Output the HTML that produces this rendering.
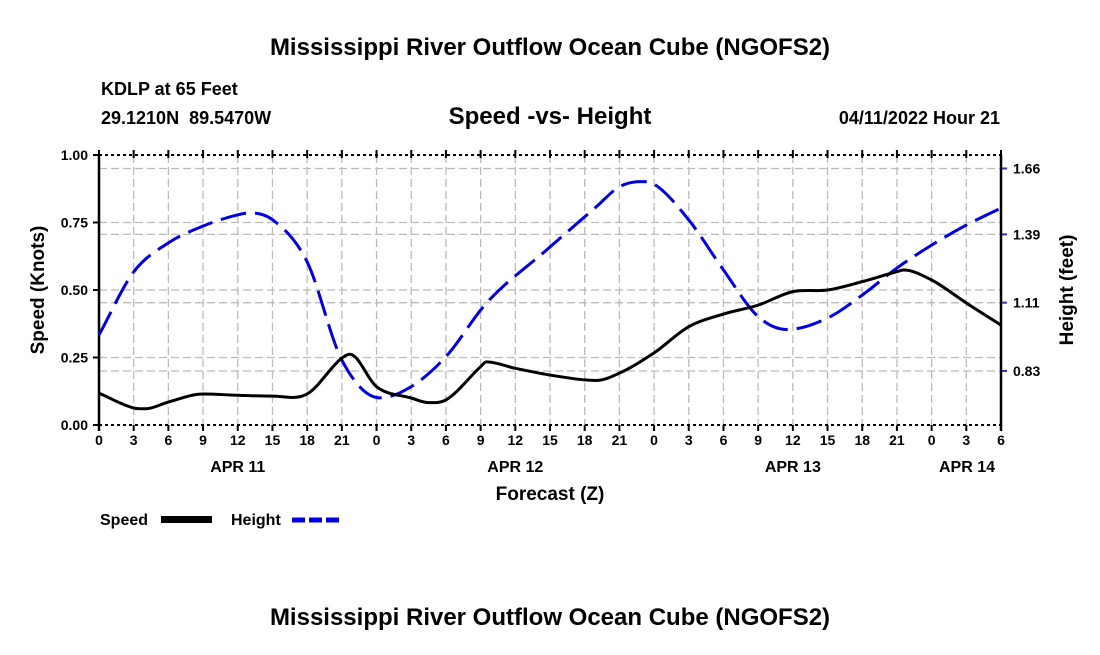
<!DOCTYPE html>
<html><head><meta charset="utf-8"><style>
body{margin:0;background:#fff;font-family:"Liberation Sans",sans-serif;}
svg text{font-family:"Liberation Sans",sans-serif;font-weight:bold;fill:#000;}
</style></head><body>
<svg id="chart" width="1100" height="650" xmlns="http://www.w3.org/2000/svg">
<text x="550" y="55" font-size="24" text-anchor="middle">Mississippi River Outflow Ocean Cube (NGOFS2)</text>
<text x="101" y="95" font-size="18">KDLP at 65 Feet</text>
<text x="101" y="124" font-size="18" style="white-space:pre">29.1210N  89.5470W</text>
<text x="550" y="124" font-size="24" text-anchor="middle">Speed -vs- Height</text>
<text x="1000" y="124" font-size="18" text-anchor="end">04/11/2022 Hour 21</text>
<g id="grid"></g><g id="axes"></g><g id="series"></g>
<text x="550" y="500" font-size="19" text-anchor="middle">Forecast (Z)</text>
<text transform="translate(44,290) rotate(-90)" font-size="19" text-anchor="middle">Speed (Knots)</text>
<text transform="translate(1073,290) rotate(-90)" font-size="19" text-anchor="middle">Height (feet)</text>
<g>
<text x="100" y="525" font-size="16">Speed</text>
<rect x="161" y="516" width="51" height="7" fill="#000"/>
<text x="231" y="525" font-size="16">Height</text>
<line x1="292" y1="520" x2="342" y2="520" stroke="#0000e0" stroke-width="5" stroke-dasharray="13,4"/>
</g>
<text x="550" y="625" font-size="24" text-anchor="middle">Mississippi River Outflow Ocean Cube (NGOFS2)</text>
</svg>
<script>
const hours=[0,3,4,6,9,12,15,18,21,21.7,24,27,28.5,30,33,33.5,36,39,42,43,45,48,51,54,57,60,63,66,69,69.6,72,75,78];
const speed=[0.118,0.063,0.06,0.085,0.115,0.11,0.107,0.115,0.248,0.262,0.142,0.10,0.083,0.093,0.216,0.234,0.21,0.185,0.167,0.165,0.192,0.267,0.364,0.411,0.444,0.494,0.5,0.531,0.568,0.574,0.537,0.452,0.37];
const hHours=[0,3,6,9,12,13,15,18,21,24.3,27,30,33.5,38.7,43,45,46.8,48,51,54,57,59.5,63,66,69,72,75,78];
const height=[0.978,1.236,1.355,1.424,1.47,1.478,1.45,1.277,0.875,0.72,0.766,0.889,1.108,1.326,1.503,1.585,1.606,1.596,1.449,1.244,1.053,1.0,1.047,1.141,1.252,1.346,1.428,1.498];
const speedTicks=["0.00","0.25","0.50","0.75","1.00"];
const heightTicks=["0.83","1.11","1.39","1.66"];
const dayLabels=["APR 11","APR 12","APR 13","APR 14"];
const L=99,R=1001,T=155,B=425,HMAX=78;
const X=h=>L+(R-L)*h/HMAX;
const YS=s=>B-(B-T)*s;
const YH=f=>371-(f-0.83)*244;
const NS="http://www.w3.org/2000/svg";
function mk(p,tag,a){const e=document.createElementNS(NS,tag);for(const k in a)e.setAttribute(k,a[k]);p.appendChild(e);return e;}
const grid=document.getElementById('grid'),axes=document.getElementById('axes'),ser=document.getElementById('series');
for(let h=3;h<HMAX;h+=3){const l=mk(grid,'line',{x1:X(h),x2:X(h),y1:T,y2:B,stroke:'#bbb','stroke-width':1.3,'stroke-dasharray':'8,4'});

}
speedTicks.forEach(t=>{const v=+t;if(v>0&&v<1){const l=mk(grid,'line',{x1:L,x2:R,y1:YS(v),y2:YS(v),stroke:'#bbb','stroke-width':1.3,'stroke-dasharray':'8,4'});

}
const tx=mk(axes,'text',{x:88,y:YS(v)+5,'font-size':14,'text-anchor':'end'});tx.textContent=t;


mk(axes,'line',{x1:L-6,x2:L,y1:YS(v),y2:YS(v),stroke:'#000','stroke-width':2});});
heightTicks.forEach(t=>{const v=+t;const l=mk(grid,'line',{x1:L,x2:R,y1:YH(v),y2:YH(v),stroke:'#bbb','stroke-width':1.3,'stroke-dasharray':'8,4'});


mk(axes,'line',{x1:R,x2:R+6,y1:YH(v),y2:YH(v),stroke:'#33c','stroke-width':2});
const tx=mk(axes,'text',{x:1013,y:YH(v)+5,'font-size':14});tx.textContent=t;

});
mk(axes,'line',{x1:L,x2:R,y1:T,y2:T,stroke:'#000','stroke-width':2,'stroke-dasharray':'3,3'});
mk(axes,'line',{x1:L,x2:R,y1:B,y2:B,stroke:'#000','stroke-width':2,'stroke-dasharray':'3,3'});
mk(axes,'line',{x1:L,x2:L,y1:T,y2:B+6,stroke:'#000','stroke-width':2.5});
mk(axes,'line',{x1:R,x2:R,y1:T,y2:B+6,stroke:'#000','stroke-width':2.5});
for(let h=0;h<=HMAX;h+=3){mk(axes,'line',{x1:X(h),x2:X(h),y1:B,y2:B+6,stroke:'#000','stroke-width':2});
mk(axes,'line',{x1:X(h),x2:X(h),y1:T-5,y2:T+3,stroke:'#000','stroke-width':2});
const tx=mk(axes,'text',{x:X(h),y:B+20,'font-size':14,'text-anchor':'middle'});tx.textContent=h%24;

}
dayLabels.forEach((d,i)=>{const h=[12,36,60,78][i];const tx=mk(axes,'text',{x:X(h)-(i==3?34:0),y:472,'font-size':16,'text-anchor':'middle'});tx.textContent=d;

});
function path(xs,ys){const n=xs.length,m=[];
for(let i=0;i<n;i++){if(i==0)m.push((ys[1]-ys[0])/(xs[1]-xs[0]));else if(i==n-1)m.push((ys[i]-ys[i-1])/(xs[i]-xs[i-1]));
else{const a=(ys[i]-ys[i-1])/(xs[i]-xs[i-1]),b=(ys[i+1]-ys[i])/(xs[i+1]-xs[i]);m.push(a*b<=0?0:(a+b)/2);}}
let d='M'+xs[0]+','+ys[0];
for(let i=0;i<n-1;i++){const dx=(xs[i+1]-xs[i])/3;
d+=` C${xs[i]+dx},${ys[i]+m[i]*dx} ${xs[i+1]-dx},${ys[i+1]-m[i+1]*dx} ${xs[i+1]},${ys[i+1]}`;}return d;}
const hp=mk(ser,'path',{d:path(hHours.map(X),height.map(YH)),fill:'none',stroke:'#0000e0','stroke-width':3,'stroke-dasharray':'26,9'});


const sp=mk(ser,'path',{d:path(hours.map(X),speed.map(YS)),fill:'none',stroke:'#000','stroke-width':3});


</script>
</body></html>
